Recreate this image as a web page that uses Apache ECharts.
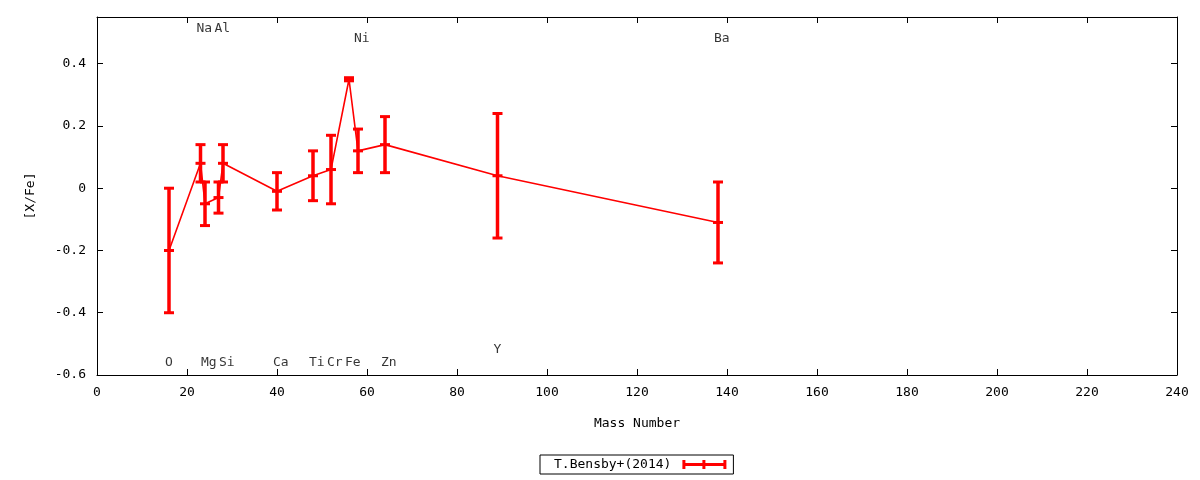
<!DOCTYPE html>
<html>
<head>
<meta charset="utf-8">
<script src="https://cdn.jsdelivr.net/npm/echarts@6/dist/echarts.min.js"></script>
<style>html,body{margin:0;padding:0;background:#fff}#c{width:1200px;height:480px}</style>
</head>
<body>
<div id="c"></div>
<script>
// Data
const masses = [16, 23, 24, 27, 28, 40, 48, 52, 56, 58, 64, 89, 138];
const values = [-0.20, 0.08, -0.05, -0.03, 0.08, -0.01, 0.04, 0.06, 0.35, 0.12, 0.14, 0.04, -0.11];
const errors = [0.20, 0.06, 0.07, 0.05, 0.06, 0.06, 0.08, 0.11, 0.005, 0.07, 0.09, 0.20, 0.13];

const labelNames = ['O', 'Na', 'Mg', 'Al', 'Si', 'Ca', 'Ti', 'Cr', 'Fe', 'Ni', 'Zn', 'Y', 'Ba'];
const labelMass  = [16, 23, 24, 27, 28, 40, 48, 52, 56, 58, 64, 89, 138];
const labelY     = [-0.561, 0.514, -0.561, 0.514, -0.561, -0.561, -0.561, -0.561, -0.561, 0.481, -0.561, -0.518, 0.481];

const xTicks = {min: 0, max: 240, interval: 20};
const yTicks = {min: -0.6, max: 0.55, interval: 0.2};
const seriesName = 'T.Bensby+(2014)';

const FONT = 'DejaVu Sans Mono';
const RED = '#ff0000';

const lineData = masses.map((m, i) => [m, values[i]]);
const errData = masses.map((m, i) => [m, values[i], errors[i]]);
const labelData = labelNames.map((n, i) => [labelMass[i], labelY[i], n]);

const chart = echarts.init(document.getElementById('c'), null, {renderer: 'canvas'});

function axisCommon() {
  return {
    axisLine: {show: true, onZero: false, lineStyle: {color: '#000', width: 1}},
    axisTick: {show: true, inside: true, length: 6, lineStyle: {color: '#000', width: 1}},
    splitLine: {show: false},
  };
}

chart.setOption({
  animation: false,
  backgroundColor: '#fff',
  textStyle: {fontFamily: FONT},
  grid: {left: 97, right: 23, top: 17, bottom: 105, containLabel: false},
  legend: {
    left: 540, top: 455,
    align: 'right',
    padding: [3, 7, 3, 14],
    borderColor: '#000', borderWidth: 1, borderRadius: 0,
    itemWidth: 44, itemHeight: 9, itemGap: 8,
    textStyle: {fontFamily: FONT, fontSize: 13, color: '#000', padding: [0, 6, 0, 0]},
    data: [{name: seriesName, icon: 'path://M0,0 L3,0 L3,3 L20,3 L20,0 L23,0 L23,3 L41,3 L41,0 L44,0 L44,9 L41,9 L41,6 L23,6 L23,9 L20,9 L20,6 L3,6 L3,9 L0,9 Z'}]
  },
  xAxis: [
    Object.assign({
      type: 'value', position: 'bottom',
      min: xTicks.min, max: xTicks.max, interval: xTicks.interval,
      name: 'Mass Number', nameLocation: 'middle', nameGap: 42,
      nameTextStyle: {fontFamily: FONT, fontSize: 13, color: '#000'},
      axisLabel: {fontFamily: FONT, fontSize: 13, color: '#000', margin: 11}
    }, axisCommon()),
    Object.assign({
      type: 'value', position: 'top',
      min: xTicks.min, max: xTicks.max, interval: xTicks.interval,
      axisLabel: {show: false}
    }, axisCommon())
  ],
  yAxis: [
    Object.assign({
      type: 'value', position: 'left',
      min: yTicks.min, max: yTicks.max, interval: yTicks.interval,
      name: '[X/Fe]', nameLocation: 'middle', nameGap: 60, nameRotate: 90,
      nameTextStyle: {fontFamily: FONT, fontSize: 13, color: '#000'},
      axisLabel: {fontFamily: FONT, fontSize: 13, color: '#000', margin: 11, showMaxLabel: false,
        formatter: v => { const r = Math.round(v * 10) / 10; return r === 0 ? '0' : r.toFixed(1); }}
    }, axisCommon()),
    Object.assign({
      type: 'value', position: 'right',
      min: yTicks.min, max: yTicks.max, interval: yTicks.interval,
      axisLabel: {show: false}
    }, axisCommon())
  ],
  series: [
    {
      type: 'line', name: 'line', data: lineData,
      showSymbol: false, symbol: 'none',
      lineStyle: {color: RED, width: 1.6},
      itemStyle: {color: RED},
      z: 2
    },
    {
      type: 'custom', name: seriesName, data: errData,
      itemStyle: {color: RED},
      z: 3,
      renderItem: function (params, api) {
        const x = api.value(0), v = api.value(1), e = api.value(2);
        const top = api.coord([x, v + e]);
        const bot = api.coord([x, v - e]);
        const mid = api.coord([x, v]);
        const hw = 5;
        const st = {stroke: RED, lineWidth: 3.5};
        const cs = {stroke: RED, lineWidth: 3};
        return {
          type: 'group',
          children: [
            {type: 'line', shape: {x1: top[0], y1: top[1], x2: bot[0], y2: bot[1]}, style: st},
            {type: 'line', shape: {x1: top[0] - hw, y1: top[1], x2: top[0] + hw, y2: top[1]}, style: cs},
            {type: 'line', shape: {x1: bot[0] - hw, y1: bot[1], x2: bot[0] + hw, y2: bot[1]}, style: cs},
            {type: 'line', shape: {x1: mid[0] - hw, y1: mid[1], x2: mid[0] + hw, y2: mid[1]}, style: cs}
          ]
        };
      }
    },
    {
      type: 'scatter', name: 'labels', data: labelData,
      symbolSize: 1,
      itemStyle: {color: 'rgba(0,0,0,0)'},
      silent: true,
      label: {
        show: true, position: 'inside', align: 'left', verticalAlign: 'middle',
        offset: [-4, 0],
        fontFamily: FONT, fontSize: 13, color: '#000',
        formatter: p => p.data[2]
      },
      z: 4
    }
  ]
});
</script>
</body>
</html>
